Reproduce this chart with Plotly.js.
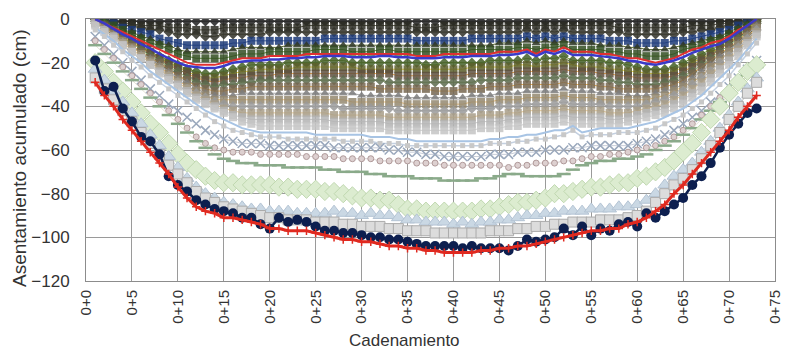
<!DOCTYPE html>
<html><head><meta charset="utf-8">
<script src="https://cdn.plot.ly/plotly-3.0.1.min.js"></script>
<style>html,body{margin:0;padding:0;background:#fff}#chart{width:785px;height:351px}</style>
</head><body><div id="chart"></div>
<script>
const stations = [1,2,3,4,5,6,7,8,9,10,11,12,13,14,15,16,17,18,19,20,21,22,23,24,25,26,27,28,29,30,31,32,33,34,35,36,37,38,39,40,41,42,43,44,45,46,47,48,49,50,51,52,53,54,55,56,57,58,59,60,61,62,63,64,65,66,67,68,69,70,71,72,73];
const tickVals = [0,5,10,15,20,25,30,35,40,45,50,55,60,65,70,75];
const tickText = ["0+0","0+5","0+10","0+15","0+20","0+25","0+30","0+35","0+40","0+45","0+50","0+55","0+60","0+65","0+70","0+75"];
const xTitle = "Cadenamiento";
const yTitle = "Asentamiento acumulado (cm)";

const b01 = [0,0,-1,-1,-1,-1,-1,-1,-1,-1, -1,-1,-1,-1,-1,-1,-1,-1,-1,-1, -1,-1,-1,-1,-1,-1,-1,-1,-1,-1, -1,-1,-1,-1,-1,-1,-1,-1,-1,-1, -1,-1,-1,-1,-1,-1,-1,-1,-1,-1, -1,-1,-1,-1,-1,-1,-1,-1,-1,-1, -1,-1,-1,-1,-1,-1,-1,-1,-1,-1, -1,0,0];
const b02 = [0,-1,-1,-2,-2,-3,-3,-3,-4,-4, -4,-5,-5,-5,-4,-4,-4,-4,-4,-4, -4,-4,-4,-3,-3,-3,-3,-3,-3,-3, -3,-3,-3,-3,-3,-4,-4,-4,-3,-3, -3,-3,-3,-3,-3,-3,-3,-3,-3,-3, -3,-3,-3,-3,-3,-3,-3,-4,-4,-4, -4,-4,-4,-4,-4,-3,-3,-3,-2,-2, -1,-1,0];
const b03 = [0,-1,-2,-3,-3,-4,-5,-5,-6,-7, -7,-7,-8,-8,-7,-7,-7,-7,-7,-6, -6,-6,-6,-6,-6,-6,-6,-6,-6,-6, -6,-6,-6,-6,-6,-6,-6,-6,-6,-6, -6,-6,-6,-6,-6,-6,-6,-5,-6,-5, -6,-5,-6,-6,-6,-6,-6,-6,-7,-7, -7,-7,-7,-7,-6,-6,-5,-5,-4,-3, -2,-1,0];
const b04 = [0,-1,-2,-4,-5,-6,-7,-9,-10,-11, -12,-12,-12,-12,-12,-11,-11,-10,-10,-10, -10,-10,-10,-10,-10,-9,-9,-9,-9,-9, -9,-9,-9,-9,-9,-10,-10,-10,-10,-10, -10,-9,-9,-9,-9,-9,-9,-8,-9,-8, -9,-8,-9,-9,-9,-9,-10,-10,-10,-11, -11,-11,-11,-10,-10,-9,-8,-7,-6,-5, -3,-2,0];
const b05 = [0,-1,-3,-5,-6,-8,-9,-11,-12,-14, -15,-15,-15,-15,-15,-14,-13,-13,-13,-13, -13,-12,-12,-12,-12,-12,-12,-12,-12,-12, -12,-12,-12,-12,-12,-12,-12,-12,-12,-12, -12,-12,-12,-12,-11,-11,-11,-10,-11,-10, -11,-10,-11,-11,-11,-12,-12,-12,-13,-13, -14,-14,-14,-13,-12,-11,-10,-9,-8,-6, -4,-2,0];
const b06 = [0,-2,-3,-5,-7,-9,-11,-12,-14,-16, -17,-18,-18,-18,-18,-17,-16,-16,-16,-15, -15,-15,-15,-15,-14,-14,-14,-14,-15,-15, -15,-14,-14,-15,-15,-15,-15,-15,-15,-15, -15,-14,-14,-14,-14,-14,-13,-13,-14,-13, -13,-12,-14,-14,-14,-14,-15,-15,-16,-16, -17,-17,-17,-16,-14,-13,-12,-10,-9,-7, -5,-3,0];
const redThin = [0,-2,-4,-6,-8,-10,-12,-14,-16,-18, -20,-21,-21,-21,-20,-19,-18,-18,-18,-17, -17,-17,-17,-16,-16,-16,-16,-16,-16,-16, -16,-16,-16,-16,-16,-17,-17,-17,-16,-16, -16,-16,-16,-16,-15,-15,-15,-14,-16,-14, -15,-13,-15,-15,-15,-16,-16,-17,-18,-18, -19,-20,-19,-18,-16,-14,-13,-11,-10,-8, -5,-3,0];
const blueThin = [0,-2,-4.5,-7,-9,-11.5,-13.5,-16,-18,-20, -21.5,-22,-22.5,-22.5,-21.5,-20,-19.5,-19,-19,-18.5, -18.5,-18,-18,-17.5,-17.5,-17,-17,-17,-17.5,-17.5, -17.5,-17,-17,-17.5,-17.5,-18,-18,-18,-17.5,-17.5, -17.5,-17,-17,-17,-16.5,-16.5,-16,-15,-17,-15, -16,-14.5,-16.5,-16.5,-16.5,-17,-17.5,-18,-19,-19.5, -20.5,-21,-20,-19,-17.5,-15.5,-14,-12.5,-11.5,-9, -6,-3,0];
const b07 = [0,-2,-5,-7,-10,-12,-15,-17,-19,-21, -23,-24,-25,-25,-24,-23,-22,-21,-21,-21, -21,-20,-20,-20,-20,-19,-19,-19,-20,-20, -20,-20,-20,-20,-20,-20,-21,-21,-20,-20, -20,-20,-20,-19,-19,-19,-19,-18,-19,-18, -18,-17,-19,-19,-19,-19,-20,-20,-21,-22, -23,-23,-23,-22,-20,-18,-16,-14,-12,-10, -7,-4,-1];
const b08 = [0,-3,-5,-8,-10,-13,-15,-18,-20,-22, -24,-26,-27,-27,-26,-25,-24,-24,-23,-23, -23,-23,-22,-22,-22,-22,-22,-22,-22,-23, -23,-23,-23,-23,-23,-23,-23,-23,-23,-23, -23,-22,-22,-22,-22,-22,-21,-21,-22,-21, -21,-20,-21,-22,-22,-22,-23,-23,-24,-24, -25,-25,-25,-24,-22,-20,-18,-16,-13,-11, -8,-5,-1];
const b09 = [-1,-3,-6,-8,-11,-13,-16,-18,-21,-23, -25,-27,-28,-29,-28,-27,-27,-26,-26,-26, -25,-25,-25,-25,-25,-25,-25,-25,-25,-25, -25,-25,-25,-26,-26,-26,-26,-26,-26,-26, -26,-25,-25,-25,-25,-25,-24,-24,-24,-24, -24,-23,-24,-24,-24,-25,-25,-26,-26,-27, -27,-27,-27,-26,-24,-22,-19,-17,-14,-11, -8,-5,-2];
const b10 = [-1,-3,-6,-9,-11,-14,-17,-19,-22,-24, -27,-29,-30,-31,-30,-30,-29,-29,-28,-28, -28,-28,-28,-28,-28,-28,-28,-28,-28,-28, -28,-28,-29,-29,-29,-29,-29,-29,-29,-29, -29,-29,-28,-28,-28,-28,-27,-27,-27,-27, -27,-26,-27,-27,-27,-28,-28,-29,-29,-30, -30,-30,-29,-28,-26,-24,-21,-18,-15,-12, -9,-6,-2];
const b11 = [-1,-4,-6,-9,-12,-15,-18,-20,-23,-26, -28,-31,-32,-33,-33,-32,-32,-31,-31,-31, -31,-31,-31,-31,-31,-31,-31,-31,-31,-31, -31,-32,-32,-32,-32,-32,-32,-33,-33,-33, -32,-32,-32,-31,-31,-31,-30,-30,-30,-30, -30,-29,-30,-30,-30,-31,-31,-32,-32,-32, -32,-32,-31,-30,-28,-25,-22,-19,-16,-13, -10,-6,-3];
const b12 = [-1,-4,-7,-10,-13,-16,-18,-21,-24,-27, -29,-32,-34,-35,-35,-35,-34,-34,-34,-34, -34,-34,-34,-34,-34,-34,-34,-34,-34,-35, -35,-35,-35,-35,-36,-36,-36,-36,-36,-36, -36,-35,-35,-35,-34,-34,-34,-33,-33,-33, -33,-32,-33,-33,-33,-34,-34,-34,-35,-35, -35,-34,-33,-32,-30,-27,-24,-21,-17,-14, -11,-7,-3];
const b13 = [-1,-4,-7,-10,-13,-16,-19,-22,-25,-28, -31,-33,-35,-37,-37,-37,-37,-37,-37,-37, -37,-37,-37,-37,-37,-37,-37,-37,-38,-38, -38,-38,-38,-38,-39,-39,-39,-39,-39,-39, -39,-38,-38,-38,-37,-37,-37,-36,-36,-36, -36,-35,-36,-36,-36,-37,-37,-37,-37,-37, -37,-36,-35,-33,-31,-29,-26,-22,-19,-15, -12,-8,-4];
const b14 = [-2,-5,-8,-11,-14,-17,-20,-23,-26,-29, -32,-34,-36,-38,-39,-40,-40,-40,-40,-40, -40,-40,-40,-40,-40,-40,-40,-41,-41,-41, -41,-41,-41,-42,-42,-42,-42,-42,-42,-42, -42,-41,-41,-41,-40,-40,-40,-39,-39,-39, -39,-38,-39,-39,-39,-39,-40,-40,-40,-40, -39,-38,-37,-35,-33,-30,-27,-24,-20,-17, -13,-9,-5];
const b15 = [-2,-5,-8,-11,-14,-17,-20,-23,-26,-29, -32,-35,-37,-39,-41,-42,-43,-43,-43,-43, -43,-43,-43,-43,-43,-43,-44,-44,-44,-44, -44,-44,-45,-45,-45,-45,-45,-45,-45,-45, -45,-45,-44,-44,-44,-43,-43,-42,-42,-42, -42,-41,-42,-42,-42,-42,-43,-43,-43,-42, -41,-40,-39,-37,-35,-32,-29,-25,-22,-18, -14,-10,-6];
const b16 = [-2,-5,-8,-12,-15,-18,-21,-24,-27,-30, -33,-36,-38,-40,-42,-44,-45,-46,-46,-46, -46,-46,-46,-46,-46,-46,-47,-47,-47,-47, -47,-47,-48,-48,-48,-48,-48,-48,-48,-48, -48,-48,-47,-47,-47,-46,-46,-45,-45,-45, -45,-44,-45,-45,-45,-45,-46,-46,-45,-44, -43,-42,-41,-39,-37,-34,-31,-27,-23,-19, -15,-11,-7];
const b17 = [-3,-6,-9,-12,-15,-18,-21,-25,-28,-31, -34,-37,-39,-41,-43,-45,-47,-48,-49,-49, -49,-49,-49,-49,-49,-49,-50,-50,-50,-50, -50,-50,-51,-51,-51,-51,-51,-51,-51,-51, -51,-51,-50,-50,-50,-49,-49,-48,-48,-48, -48,-47,-48,-48,-48,-48,-48,-48,-47,-46, -45,-44,-43,-41,-39,-36,-33,-29,-25,-21, -17,-12,-8];
const lightBlue1 = [-4,-7,-10,-14,-17,-20,-24,-27,-30,-33, -36,-39,-42,-44,-46,-48,-50,-51,-52,-52, -52,-52,-52,-52,-53,-53,-53,-53,-53,-53, -54,-54,-54,-55,-55,-56,-56,-56,-56,-56, -56,-56,-56,-55,-55,-54,-54,-53,-53,-52, -51,-51,-49,-52,-51,-50,-50,-50,-50,-49, -48,-47,-45,-43,-41,-38,-35,-31,-27,-23, -19,-14,-9];
const lightBlue2 = [-5,-8,-12,-15,-19,-22,-26,-29,-32,-35, -38,-41,-44,-47,-49,-51,-52,-53,-54,-54, -54,-55,-55,-55,-55,-55,-55,-56,-56,-56, -56,-57,-57,-57,-58,-58,-58,-58,-58,-58, -58,-58,-58,-57,-57,-57,-56,-56,-55,-55, -54,-53,-51,-54,-53,-53,-53,-52,-52,-52, -51,-50,-48,-46,-44,-41,-38,-34,-30,-26, -21,-16,-11];
const greyX = [-8,-12,-16,-20,-24,-28,-32,-35,-39,-42, -45,-48,-51,-53,-55,-56,-57,-57,-57,-58, -58,-58,-58,-58,-58,-58,-59,-59,-59,-59, -59,-59,-60,-60,-61,-61,-62,-62,-63,-63, -63,-63,-63,-62,-62,-62,-61,-61,-61,-60, -60,-60,-59,-59,-58,-58,-58,-58,-58,-57, -56,-55,-53,-51,-48,-45,-42,-38,-35,-31, -27,-23,-19];
const pinkCircle = [-10,-14,-18,-22,-26,-30,-34,-38,-42,-46, -50,-54,-57,-59,-60,-61,-61,-61,-62,-62, -62,-62,-62,-63,-63,-63,-63,-64,-64,-64, -64,-65,-65,-65,-65,-66,-66,-66,-67,-67, -67,-67,-67,-67,-67,-68,-67,-67,-66,-66, -66,-65,-65,-64,-63,-63,-62,-62,-61,-60, -59,-58,-56,-54,-51,-48,-44,-40,-36,-32, -28,-24,-20];
const greenDash = [-12,-16,-20,-24,-28,-32,-36,-40,-44,-48, -52,-56,-59,-62,-64,-65,-66,-66,-67,-67, -67,-68,-68,-68,-68,-69,-69,-70,-70,-70, -71,-71,-72,-72,-72,-73,-73,-73,-74,-74, -74,-74,-73,-73,-72,-71,-71,-72,-72,-72, -72,-71,-69,-67,-66,-65,-65,-64,-64,-63, -62,-60,-58,-56,-53,-50,-46,-42,-38,-34, -30,-26,-22];
const diamonds = [-20,-24,-29,-33,-38,-43,-48,-52,-57,-62, -66,-69,-72,-74,-75,-75,-76,-76,-76,-76, -77,-77,-78,-78,-78,-79,-79,-80,-81,-82, -82,-83,-83,-85,-87,-87,-88,-88,-88,-88, -88,-88,-87,-87,-86,-85,-84,-84,-83,-82, -80,-80,-79,-78,-77,-77,-76,-75,-75,-73, -72,-70,-68,-65,-61,-57,-52,-46,-40,-34, -29,-24,-21];
const triangles = [-23,-28,-33,-38,-43,-48,-53,-58,-63,-68, -73,-77,-80,-82,-84,-85,-86,-87,-87,-88, -88,-88,-89,-89,-89,-89,-88,-89,-89,-90, -89,-90,-90,-91,-92,-92,-93,-93,-93,-94, -93,-94,-93,-93,-92,-92,-91,-90,-90,-89, -89,-88,-88,-88,-87,-87,-87,-86,-86,-85, -83,-80,-76,-72,-69,-66,-61,-56,-50,-44, -38,-32,-27];
const greySquares = [-27,-32,-37,-42,-47,-52,-57,-62,-67,-71, -75,-79,-82,-84,-86,-87,-88,-89,-90,-91, -91,-92,-92,-92,-93,-93,-93,-94,-94,-95, -95,-95,-96,-96,-97,-97,-97,-98,-98,-98, -98,-98,-98,-97,-97,-97,-96,-96,-95,-95, -94,-94,-93,-93,-93,-92,-92,-92,-91,-90, -88,-84,-80,-76,-73,-69,-64,-58,-52,-46, -40,-34,-29];
const navyCircles = [-19,-33,-31,-41,-47,-54,-56,-62,-72,-76, -79,-83,-85,-87,-88,-89,-91,-91,-94,-96, -91,-93,-92,-93,-95,-97,-97,-98,-98,-99, -100,-100,-101,-101,-102,-103,-104,-104,-104,-104, -105,-104,-105,-105,-105,-106,-104,-101,-102,-101, -100,-96,-99,-95,-99,-96,-97,-94,-93,-95, -89,-91,-88,-85,-82,-76,-72,-66,-59,-53, -48,-43,-41];
const redFinal = [-29,-35,-40,-46,-51,-56,-61,-66,-71,-77, -82,-86,-88,-89,-91,-91,-92,-93,-94,-96, -96,-97,-97,-97,-98,-99,-100,-101,-101,-102, -102,-103,-104,-104,-105,-105,-106,-106,-107,-107, -107,-107,-106,-106,-105,-105,-104,-104,-103,-102, -101,-100,-99,-98,-97,-97,-96,-96,-94,-93, -91,-88,-85,-80,-76,-71,-66,-61,-56,-51, -45,-40,-35];

// styles (separate from the data)
const bandStyles = [
  [b01,'#1e1e1e','diamond','#444444'],
  [b02,'#2a2a22','square','#555544'],
  [b03,'#303028','diamond','#6a6a4a'],
  [b04,'#1c3a78','square','#3a5a9a'],
  [b05,'#2e3626','triangle-up','#5a6a30'],
  [b06,'#324e22','square','#5a8a30'],
  [b07,'#445f28','diamond','#7a9a3a'],
  [b08,'#5a5e2a','square','#e8d040'],
  [b09,'#5e5040','square','#f0a040'],
  [b10,'#5c6a4c','diamond','#8fb06f'],
  [b11,'#766650','square','#f0b050'],
  [b12,'#7c7c7c','triangle-up','#a8a8a8'],
  [b13,'#948870','square','#f4c070'],
  [b14,'#9a9a9a','diamond','#bcbcbc'],
  [b15,'#a89e88','square','#e8c890'],
  [b16,'#b4b4b4','square','#c8c8c8'],
  [b17,'#c4c4c4','square','#d0d0d0']
];

const traces = [];
bandStyles.forEach(([y,mc,sym,lc]) => {
  traces.push({x: stations, y: y, type:'scatter', mode:'lines+markers',
    line:{color:lc, width:1}, marker:{symbol:sym, size:8, color:mc, opacity:0.85, line:{width:0}}});
});
traces.push({x: stations, y: redThin, mode:'lines', line:{color:'#e03030', width:2}});
traces.push({x: stations, y: blueThin, mode:'lines', line:{color:'#3a3ac8', width:2.5}});
traces.push({x: stations, y: lightBlue1, mode:'lines', line:{color:'#a8c4e4', width:2}});
traces.push({x: stations, y: lightBlue2, mode:'lines+markers', line:{color:'#c4d0e0', width:1.5},
  marker:{symbol:'square', size:5, color:'#c8c8c8'}});
traces.push({x: stations, y: greyX, mode:'lines+markers', line:{color:'#c8cdd8', width:1},
  marker:{symbol:'x-thin-open', size:9, color:'#9aa8bc', line:{width:1.5, color:'#9aa8bc'}}});
traces.push({x: stations, y: pinkCircle, mode:'lines+markers', line:{color:'#d8d0d0', width:1},
  marker:{symbol:'circle', size:6, color:'#ddd0d0', line:{width:1, color:'#b09a9a'}}});
traces.push({x: stations, y: greenDash, mode:'lines+markers', line:{color:'#e6e4d6', width:1},
  marker:{symbol:'line-ew-open', size:10, color:'#8aaa8a', line:{width:2.5, color:'#8aaa8a'}}});
traces.push({x: stations, y: diamonds, mode:'lines+markers', line:{color:'#f0e8c8', width:1},
  marker:{symbol:'diamond', size:14, color:'#dcecd0', line:{width:1, color:'#c0d8b0'}}});
traces.push({x: stations, y: triangles, mode:'lines+markers', line:{color:'#d0dce8', width:1},
  marker:{symbol:'triangle-up', size:12, color:'#cad8e4', line:{width:1, color:'#b4c4d4'}}});
traces.push({x: stations, y: greySquares, mode:'lines+markers', line:{color:'#c0c0c0', width:1},
  marker:{symbol:'square', size:10, color:'#dcdcdc', line:{width:1, color:'#ababab'}}});
traces.push({x: stations, y: navyCircles, mode:'lines+markers', line:{color:'#0d1f4f', width:2.5},
  marker:{symbol:'circle', size:10, color:'#0d1f4f'}});
traces.push({x: stations, y: redFinal, mode:'lines+markers', line:{color:'#e02a20', width:3},
  marker:{symbol:'cross-thin-open', size:6, color:'#e02a20', line:{width:1.5, color:'#e02a20'}}});

const fontFam = '"Liberation Sans", Arial, sans-serif';
const layout = {
  width:785, height:351,
  margin:{l:86, r:10, t:19, b:70},
  paper_bgcolor:'#ffffff', plot_bgcolor:'#ffffff',
  showlegend:false,
  font:{family:fontFam, color:'#333333', size:16},
  xaxis:{range:[0,75], tickmode:'array', tickvals:tickVals, ticktext:tickText, tickangle:-90,
    showgrid:true, gridcolor:'#9a9a9a', gridwidth:1, zeroline:false,
    showline:true, linecolor:'#8c8c8c', linewidth:1, mirror:true, ticks:'',
    ticklabeloverflow:'allow', ticklabelstandoff:2,
    tickfont:{size:15, family:fontFam, color:'#333333'},
    fixedrange:true},
  yaxis:{range:[-120,0], dtick:20, tick0:0,
    showgrid:true, gridcolor:'#9a9a9a', gridwidth:1, zeroline:false,
    showline:true, linecolor:'#8c8c8c', linewidth:1, mirror:true, ticks:'', ticklabelstandoff:12,
    tickfont:{size:17, family:fontFam, color:'#333333'},
    fixedrange:true},
  annotations:[
    {text:xTitle, xref:'paper', yref:'paper', x:(404-86)/689, y:(281-340)/262,
     xanchor:'center', yanchor:'middle', showarrow:false,
     font:{size:17, family:fontFam, color:'#333333'}},
    {text:yTitle, xref:'paper', yref:'paper', x:(19-86)/689, y:(281-158)/262, textangle:-90,
     xanchor:'center', yanchor:'middle', showarrow:false,
     font:{size:19, family:fontFam, color:'#333333'}}
  ]
};
Plotly.newPlot('chart', traces, layout, {displayModeBar:false, staticPlot:true});
</script>
</body></html>
